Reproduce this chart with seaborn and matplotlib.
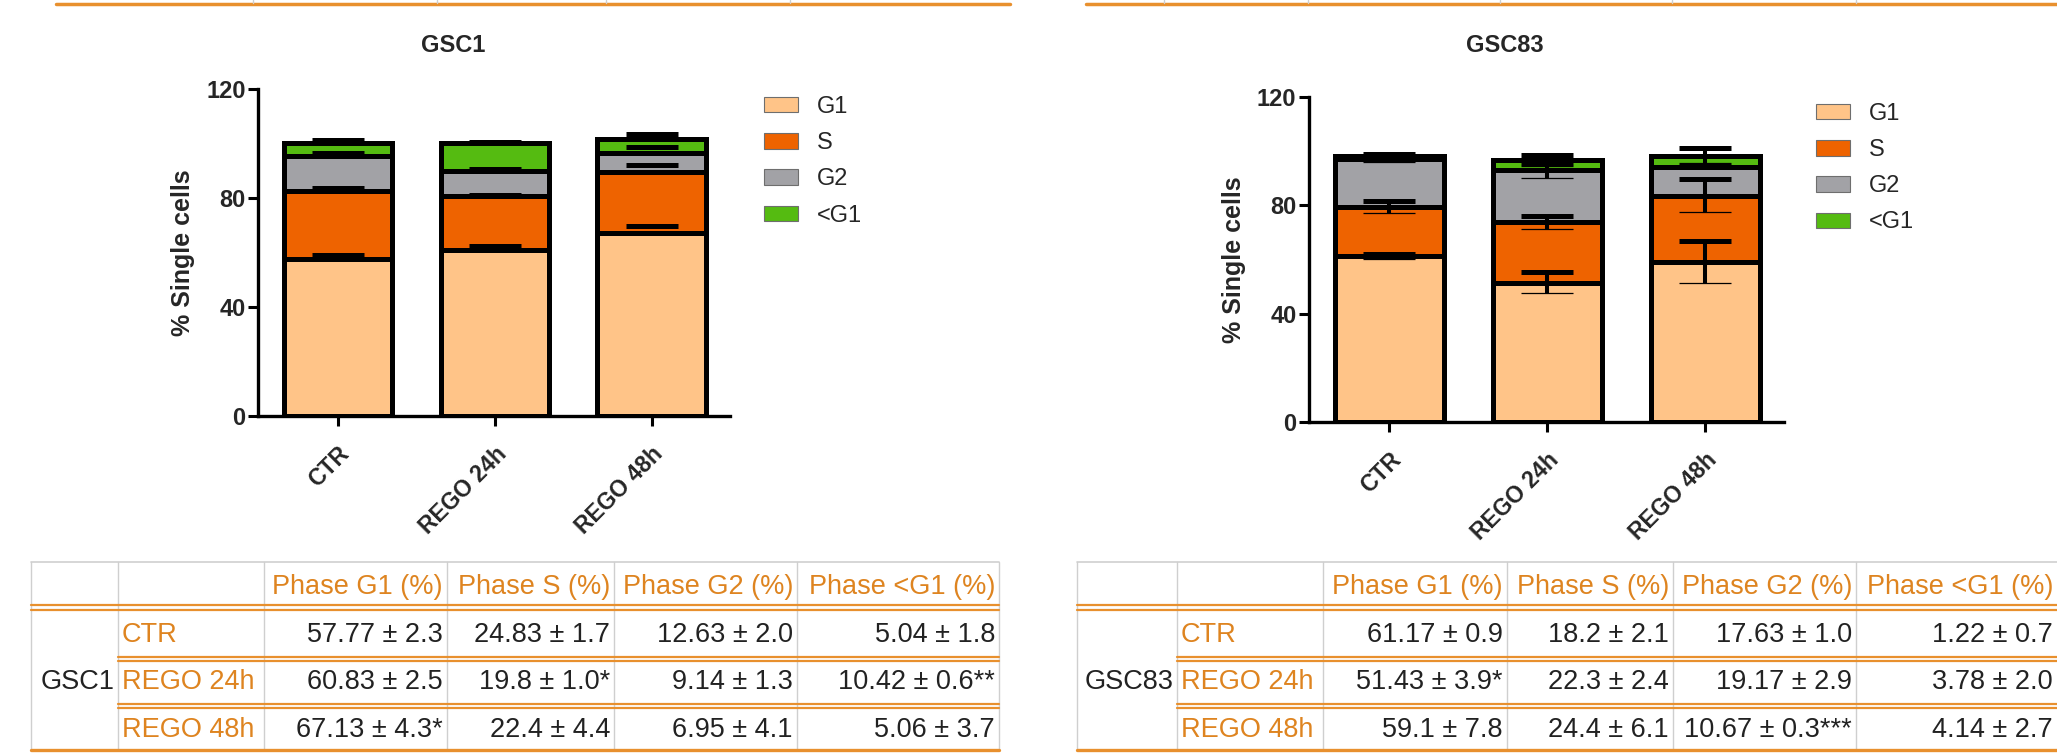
import numpy as np
import matplotlib
matplotlib.use("Agg")
import matplotlib.pyplot as plt
import seaborn as sns
from matplotlib.patches import Patch

# categories
groups = ["CTR", "REGO 24h", "REGO 48h"]
phases = ["G1", "S", "G2", "<G1"]
phase_cols = ["Phase G1 (%)", "Phase S (%)", "Phase G2 (%)", "Phase <G1 (%)"]

# GSC1 means / SD (table)
gsc1_g1 = [57.77, 60.83, 67.13]
gsc1_s = [24.83, 19.8, 22.4]
gsc1_g2 = [12.63, 9.14, 6.95]
gsc1_sub = [5.04, 10.42, 5.06]
gsc1_g1_sd = [2.3, 2.5, 4.3]
gsc1_s_sd = [1.7, 1.0, 4.4]
gsc1_g2_sd = [2.0, 1.3, 4.1]
gsc1_sub_sd = [1.8, 0.6, 3.7]
gsc1_g1_sig = ["", "", "*"]
gsc1_s_sig = ["", "*", ""]
gsc1_g2_sig = ["", "", ""]
gsc1_sub_sig = ["", "**", ""]
# GSC1 error bars as drawn in the chart
gsc1_g1_bar = [1.3, 1.5, 2.5]
gsc1_s_bar = [1.0, 0.6, 2.5]
gsc1_g2_bar = [1.2, 0.8, 2.4]
gsc1_sub_bar = [1.0, 0.4, 2.1]

# GSC83 means / SD
gsc83_g1 = [61.17, 51.43, 59.1]
gsc83_s = [18.2, 22.3, 24.4]
gsc83_g2 = [17.63, 19.17, 10.67]
gsc83_sub = [1.22, 3.78, 4.14]
gsc83_g1_sd = [0.9, 3.9, 7.8]
gsc83_s_sd = [2.1, 2.4, 6.1]
gsc83_g2_sd = [1.0, 2.9, 0.3]
gsc83_sub_sd = [0.7, 2.0, 2.7]
gsc83_g1_sig = ["", "*", ""]
gsc83_s_sig = ["", "", ""]
gsc83_g2_sig = ["", "", "***"]
gsc83_sub_sig = ["", "", ""]

colors = ["#FFC488", "#EE6300", "#A2A2A6", "#55BB11"]
ORANGE = "#E8902E"
ORANGE_TXT = "#DE8420"
GRAY = "#CFCFCF"

sns.set_theme(style="ticks")
plt.rcParams["font.family"] = ["Liberation Sans", "DejaVu Sans"]

fig = plt.figure(figsize=(20.57, 7.56), dpi=100)

# overlay in pixel coords for the tables
ov = fig.add_axes([0, 0, 1, 1])
ov.set_xlim(0, 2057)
ov.set_ylim(756, 0)
ov.axis("off")


def draw_panel(ax, means, errs, both):
    cum = np.cumsum(np.array(means), axis=0)
    for k in reversed(range(4)):
        sns.barplot(x=groups, y=cum[k], color=colors[k], saturation=1,
                    width=0.69, edgecolor="black", linewidth=3.6,
                    errorbar=None, ax=ax, order=groups)
    x = np.arange(3)
    for k in range(4):
        e = np.array(errs[k])
        z = np.zeros(3)
        if both:
            ax.errorbar(x, cum[k], yerr=[z, e], fmt="none", ecolor="black",
                        elinewidth=2.9, capsize=18.7, capthick=3.6, zorder=5)
            ax.errorbar(x, cum[k], yerr=[e, z], fmt="none", ecolor="black",
                        elinewidth=2.9, capsize=18.7, capthick=0.9, zorder=5)
        else:
            ax.errorbar(x, cum[k], yerr=[z, e], fmt="none", ecolor="black",
                        elinewidth=0, capsize=18.7, capthick=3.6, zorder=5)
    ax.set_xlim(-0.51, 2.5)
    ax.set_ylim(0, 120)
    ax.set_yticks([0, 40, 80, 120])
    ax.set_yticklabels(["0", "40", "80", "120"], fontsize=17, fontweight="bold")
    ax.set_xticks(x)
    ax.set_xticklabels(groups, rotation=45, ha="right", rotation_mode="anchor",
                       fontsize=16.5, fontweight="bold")
    ax.set_xlabel("")
    ax.set_ylabel("% Single cells", fontsize=18, fontweight="bold", labelpad=8)
    sns.despine(ax=ax)
    for sp in ["left", "bottom"]:
        ax.spines[sp].set_linewidth(2.4)
        ax.spines[sp].set_color("black")
    ax.tick_params(axis="both", width=2.2, length=7, color="black", pad=2)
    ax.tick_params(axis="x", pad=12)
    ax.set_facecolor("none")


ax1 = fig.add_axes([258 / 2057, 1 - 416 / 756, 472 / 2057, 327 / 756])
draw_panel(ax1, [gsc1_g1, gsc1_s, gsc1_g2, gsc1_sub],
           [gsc1_g1_bar, gsc1_s_bar, gsc1_g2_bar, gsc1_sub_bar], both=False)
ax2 = fig.add_axes([1309 / 2057, 1 - 422 / 756, 475 / 2057, 325 / 756])
draw_panel(ax2, [gsc83_g1, gsc83_s, gsc83_g2, gsc83_sub],
           [gsc83_g1_sd, gsc83_s_sd, gsc83_g2_sd, gsc83_sub_sd], both=True)

fig.text(453 / 2057, 1 - 45 / 756, "GSC1", ha="center", va="center",
         fontsize=17, fontweight="bold")
fig.text(1505 / 2057, 1 - 45 / 756, "GSC83", ha="center", va="center",
         fontsize=17, fontweight="bold")

handles = [Patch(facecolor=c, edgecolor="#6e6e6e", linewidth=0.8) for c in colors]
for lx, ly in [(764, 96), (1816, 103)]:
    fig.legend(handles, phases, loc="upper left",
               bbox_to_anchor=(lx / 2057, 1 - ly / 756), frameon=False,
               fontsize=17, handlelength=1.45, handleheight=0.62,
               handletextpad=0.8, labelspacing=0.6, borderpad=0,
               borderaxespad=0)

# top strip: bottom border of tables above
ov.plot([56, 1010], [4, 4], color=ORANGE, lw=2.5)
ov.plot([1086, 2057], [4, 4], color=ORANGE, lw=2.5)
for xv in [253, 437, 606, 790, 1164, 1308, 1500, 1672, 1856]:
    ov.plot([xv, xv], [0, 3], color=GRAY, lw=1)


def draw_table(x_edges, name, means, sds, sigs, right_cut=False):
    xl, xr = x_edges[0], x_edges[-1]
    y_top, y_bot = 562, 750
    ov.plot([xl, xr], [y_top, y_top], color=GRAY, lw=1.2)
    for xv in x_edges:
        if right_cut and xv == xr:
            continue
        ov.plot([xv, xv], [y_top, y_bot], color=GRAY, lw=1)
    # double rule under header
    for yy in [605, 610]:
        ov.plot([xl, xr], [yy, yy], color=ORANGE, lw=1.6)
    # double rules between rows
    for yy in [657, 661, 704, 708]:
        ov.plot([x_edges[1], xr], [yy, yy], color=ORANGE, lw=1.6)
    ov.plot([xl, xr], [y_bot, y_bot], color=ORANGE, lw=2.4)
    for j, col in enumerate(phase_cols):
        ov.text(x_edges[j + 3] - 4, 587, col, ha="right", va="center",
                fontsize=19.5, color=ORANGE_TXT)
    row_y = [635, 682, 730]
    ov.text(x_edges[1] - 3, row_y[1], name, ha="right", va="center",
            fontsize=19.5, color="#222222")
    for i, g in enumerate(groups):
        ov.text(x_edges[1] + 4, row_y[i], g, ha="left", va="center",
                fontsize=19.5, color=ORANGE_TXT)
        for j in range(4):
            s = f"{means[j][i]:g} \u00b1 {sds[j][i]:.1f}{sigs[j][i]}"
            ov.text(x_edges[j + 3] - 4, row_y[i], s, ha="right", va="center",
                    fontsize=19.5, color="#222222")


draw_table([31, 118, 264, 447, 614, 797, 999], "GSC1",
           [gsc1_g1, gsc1_s, gsc1_g2, gsc1_sub],
           [gsc1_g1_sd, gsc1_s_sd, gsc1_g2_sd, gsc1_sub_sd],
           [gsc1_g1_sig, gsc1_s_sig, gsc1_g2_sig, gsc1_sub_sig])
draw_table([1077, 1177, 1323, 1507, 1673, 1856, 2057], "GSC83",
           [gsc83_g1, gsc83_s, gsc83_g2, gsc83_sub],
           [gsc83_g1_sd, gsc83_s_sd, gsc83_g2_sd, gsc83_sub_sd],
           [gsc83_g1_sig, gsc83_s_sig, gsc83_g2_sig, gsc83_sub_sig],
           right_cut=True)

fig.savefig("out.png", dpi=100, facecolor="white")
